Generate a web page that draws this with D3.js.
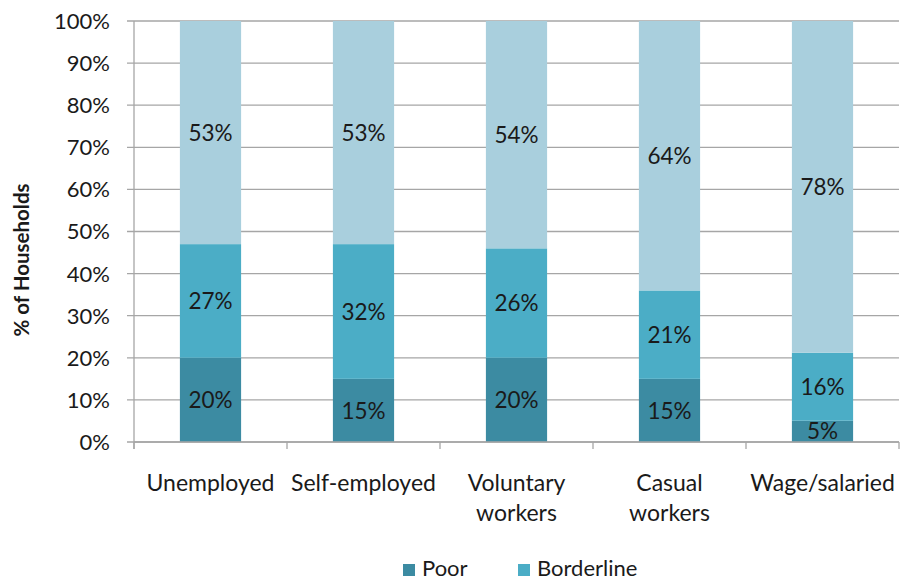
<!DOCTYPE html>
<html>
<head>
<meta charset="utf-8">
<script src="https://cdn.jsdelivr.net/npm/d3@7"></script>
<style>
  html, body { margin: 0; padding: 0; background: #fff; }
  svg { display: block; font-family: Lato, "Open Sans", sans-serif; }
</style>
</head>
<body>
<svg id="chart" width="900" height="581"></svg>
<script>
// Household poverty status by employment type (percent of households)
const categories = ["Unemployed", "Self-employed", "Voluntary workers", "Casual workers", "Wage/salaried"];
const categoryLines = [["Unemployed"], ["Self-employed"], ["Voluntary", "workers"], ["Casual", "workers"], ["Wage/salaried"]];
const poor = [20, 15, 20, 15, 5];
const borderline = [27, 32, 26, 21, 16];
const nonPoor = [53, 53, 54, 64, 78];
const seriesNames = ["Poor", "Borderline", "Non-poor"];
const legendNames = ["Poor", "Borderline"];
const yTicks = [0, 10, 20, 30, 40, 50, 60, 70, 80, 90, 100];
const yTitle = "% of Households";

const colors = { "Poor": "#3c8ba2", "Borderline": "#4badc6", "Non-poor": "#a9cfdd" };

const svg = d3.select("#chart");
const plotLeft = 134, plotRight = 899, plotTop = 21, plotBottom = 442;
const textColor = "#1a1a1a";
const gridColor = "#a6a6a6";

const rows = categories.map((c, i) => ({
  category: c,
  "Poor": poor[i],
  "Borderline": borderline[i],
  "Non-poor": nonPoor[i]
}));

const stacked = d3.stack().keys(seriesNames).offset(d3.stackOffsetExpand)(rows);

const x = d3.scaleBand().domain(categories).range([plotLeft, plotRight])
  .paddingInner(0.6).paddingOuter(0.3);
const y = d3.scaleLinear().domain([0, 100]).range([plotBottom, plotTop]);
const yFrac = d3.scaleLinear().domain([0, 1]).range([plotBottom, plotTop]);

// gridlines with outward tick marks
svg.append("g").selectAll("line").data(yTicks).join("line")
  .attr("x1", plotLeft - 7).attr("x2", plotRight)
  .attr("y1", d => y(d)).attr("y2", d => y(d))
  .attr("stroke", gridColor).attr("stroke-width", 1.3);

// y tick labels
svg.append("g").selectAll("text").data(yTicks).join("text")
  .attr("x", 110).attr("y", d => y(d))
  .attr("dy", "0.36em")
  .attr("text-anchor", "end")
  .attr("font-size", 22)
  .attr("fill", textColor)
  .text(d => d + "%");

// bars
const seriesG = svg.append("g").selectAll("g").data(stacked).join("g")
  .attr("fill", d => colors[d.key]);
seriesG.selectAll("rect").data(d => d).join("rect")
  .attr("x", d => x(d.data.category))
  .attr("width", x.bandwidth())
  .attr("y", d => yFrac(d[1]))
  .attr("height", d => yFrac(d[0]) - yFrac(d[1]));

// value labels
seriesG.selectAll("text").data(s => s.map(d => ({ d, key: s.key }))).join("text")
  .attr("x", o => x(o.d.data.category) + x.bandwidth() / 2)
  .attr("y", o => (yFrac(o.d[0]) + yFrac(o.d[1])) / 2)
  .attr("dy", "0.36em")
  .attr("text-anchor", "middle")
  .attr("font-size", 22.5)
  .attr("fill", textColor)
  .text(o => o.d.data[o.key] + "%");

// axis lines
svg.append("line").attr("x1", plotLeft).attr("x2", plotLeft).attr("y1", plotTop).attr("y2", plotBottom + 7)
  .attr("stroke", gridColor).attr("stroke-width", 1.3);
svg.append("line").attr("x1", plotLeft).attr("x2", plotRight).attr("y1", plotBottom).attr("y2", plotBottom)
  .attr("stroke", gridColor).attr("stroke-width", 1.3);
const step = x.step();
const boundaries = d3.range(categories.length + 1).map(i => plotLeft + i * step);
svg.append("g").selectAll("line").data(boundaries).join("line")
  .attr("x1", d => d).attr("x2", d => d)
  .attr("y1", plotBottom).attr("y2", plotBottom + 7)
  .attr("stroke", gridColor).attr("stroke-width", 1.3);

// category labels
const catG = svg.append("g").selectAll("text").data(categories).join("text")
  .attr("x", d => x(d) + x.bandwidth() / 2)
  .attr("y", 491)
  .attr("text-anchor", "middle")
  .attr("font-size", 23)
  .attr("fill", textColor);
catG.selectAll("tspan").data((d, i) => categoryLines[i]).join("tspan")
  .attr("x", function() { return this.parentNode.getAttribute("x"); })
  .attr("dy", (d, i) => i === 0 ? 0 : 30)
  .text(d => d);

// y-axis title
svg.append("text")
  .attr("transform", `translate(29, 260) rotate(-90)`)
  .attr("text-anchor", "middle")
  .attr("font-size", 20.5)
  .attr("font-weight", "bold")
  .attr("fill", textColor)
  .text(yTitle);

// legend
const legendX = [403, 518];
const lg = svg.append("g").selectAll("g").data(legendNames).join("g")
  .attr("transform", (d, i) => `translate(${legendX[i]}, 564)`);
lg.append("rect").attr("width", 12).attr("height", 12).attr("fill", d => colors[d]);
lg.append("text").attr("x", 19).attr("y", 12).attr("font-size", 22)
  .attr("fill", textColor).text(d => d);
</script>
</body>
</html>
